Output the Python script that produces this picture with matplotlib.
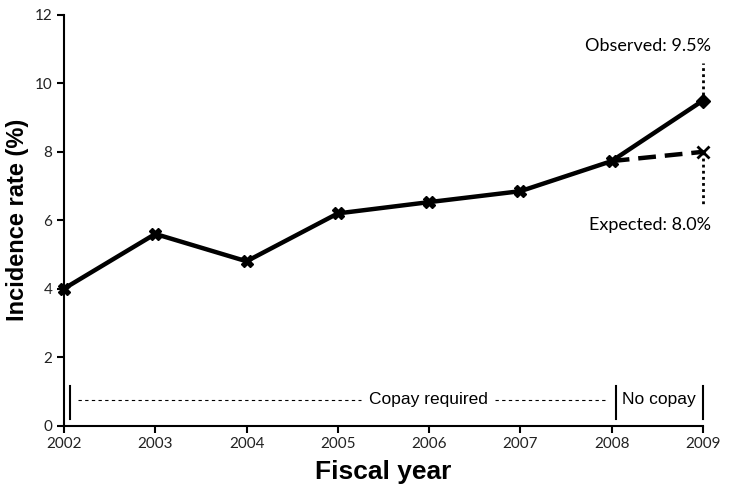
import matplotlib.pyplot as plt

years = [2002, 2003, 2004, 2005, 2006, 2007, 2008]
rates = [4.0, 5.6, 4.8, 6.2, 6.53, 6.85, 7.73]
obs_year, obs_rate = 2009, 9.5
exp_year, exp_rate = 2009, 8.0

fig = plt.figure(figsize=(7.29, 4.95), dpi=100)
ax = fig.add_axes([0.0878, 0.1404, 0.8765, 0.8293])

# observed line
ax.plot(years + [obs_year], rates + [obs_rate], color='black', lw=3.2, zorder=3, clip_on=False)
ax.plot(years, rates, ls='none', marker='X', ms=9, color='black', zorder=4, clip_on=False)
ax.plot([obs_year], [obs_rate], ls='none', marker='D', ms=7, color='black', zorder=4, clip_on=False)

# expected trend
ax.plot([years[-1], exp_year], [rates[-1], exp_rate], color='black', lw=3.2,
        ls=(0, (4, 2)), zorder=2, clip_on=False)
ax.plot([exp_year], [exp_rate], ls='none', marker='x', ms=9, mew=2, color='black', zorder=4,
        clip_on=False)

# dotted leaders
ax.plot([2009, 2009], [obs_rate, 10.6], color='black', lw=2, ls=(0, (1, 1.2)), clip_on=False)
ax.plot([2009, 2009], [exp_rate, 6.45], color='black', lw=2, ls=(0, (1, 1.2)), clip_on=False)
ax.text(2009.09, 11.1, 'Observed: 9.5%', ha='right', va='center', fontsize=13, family='Lato')
ax.text(2009.09, 5.86, 'Expected: 8.0%', ha='right', va='center', fontsize=13, family='Lato')

# copay brackets
ax.plot([2002.07, 2002.07], [0.2, 1.15], color='black', lw=1.5)
ax.plot([2008.05, 2008.05], [0.2, 1.15], color='black', lw=1.5)
ax.plot([2009.0, 2009.0], [0.2, 1.15], color='black', lw=1.5, clip_on=False)
ax.plot([2002.15, 2005.25], [0.75, 0.75], color='black', lw=0.8, ls=(0, (3, 3)))
ax.plot([2006.72, 2007.95], [0.75, 0.75], color='black', lw=0.8, ls=(0, (3, 3)))
ax.text(2005.99, 0.75, 'Copay required', ha='center', va='center', fontsize=12.5,
        family='Liberation Sans')
ax.text(2008.52, 0.75, 'No copay', ha='center', va='center', fontsize=12.5,
        family='Liberation Sans')

ax.set_xlim(2002, 2009)
ax.set_ylim(0, 12)
ax.set_xticks(range(2002, 2010))
ax.set_yticks(range(0, 13, 2))
for lab in ax.get_xticklabels() + ax.get_yticklabels():
    lab.set_family('Lato')
    lab.set_fontsize(11)
    lab.set_color('#222222')
ax.tick_params(direction='out', length=5, width=1.5)
ax.spines['top'].set_visible(False)
ax.spines['right'].set_visible(False)
ax.spines['left'].set_linewidth(1.5)
ax.spines['bottom'].set_linewidth(1.5)

ax.set_xlabel('Fiscal year', fontsize=19, fontweight='bold', family='Liberation Sans', labelpad=6)
ax.set_ylabel('Incidence rate (%)', fontsize=17, fontweight='bold', family='Liberation Sans', labelpad=4)

fig.savefig('out.png', dpi=100)
